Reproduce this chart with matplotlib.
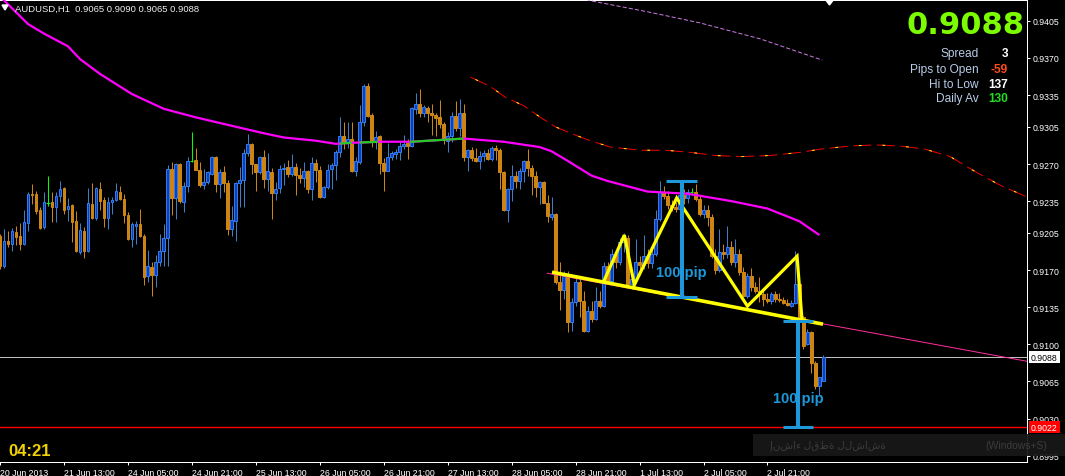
import numpy as np
import matplotlib
matplotlib.use("Agg")
import matplotlib.pyplot as plt
from matplotlib.patches import Rectangle, Polygon

plt.rcParams['font.family'] = ['Liberation Sans', 'DejaVu Sans']
plt.rcParams['lines.scale_dashes'] = False

# ---- AUDUSD H1 candles (bar index 0 = 20 Jun 2013 21:00) ----
opens = [
    .9202, .9174, .9197, .9195, .9206, .9202, .9195, .9214, .9242, .9242,
    .9227, .9211, .9233, .9234, .9229, .9240, .9247, .9228, .9231, .9216,
    .9187, .9207, .9188, .9232, .9219, .9246, .9236, .9219, .9234, .9236,
    .9244, .9237, .9222, .9199, .9212, .9213, .9202, .9164, .9173, .9165,
    .9178, .9188, .9200, .9265, .9238, .9270, .9234, .9249, .9273, .9274,
    .9264, .9250, .9253, .9261, .9277, .9251, .9262, .9252, .9209, .9216,
    .9252, .9255, .9280, .9289, .9270, .9262, .9277, .9256, .9262, .9243,
    .9247, .9265, .9267, .9261, .9267, .9260, .9257, .9263, .9246, .9271,
    .9264, .9239, .9248, .9265, .9269, .9281, .9296, .9290, .9294, .9263,
    .9272, .9310, .9344, .9316, .9291, .9296, .9271, .9263, .9277, .9279,
    .9281, .9287, .9290, .9287, .9322, .9327, .9318, .9323, .9318, .9316,
    .9314, .9308, .9292, .9296, .9315, .9304, .9318, .9277, .9283, .9276,
    .9273, .9278, .9280, .9275, .9285, .9283, .9262, .9227, .9246, .9259,
    .9254, .9263, .9273, .9266, .9259, .9248, .9253, .9233, .9220, .9223,
    .9159, .9151, .9164, .9121, .9140, .9159, .9141, .9113, .9131, .9124,
    .9141, .9136, .9174, .9160, .9185, .9178, .9196, .9200, .9157, .9162,
    .9178, .9175, .9183, .9177, .9185, .9218, .9244, .9240, .9231, .9229,
    .9228, .9241, .9238, .9244, .9244, .9237, .9223, .9227, .9220, .9183,
    .9170, .9187, .9185, .9192, .9178, .9185, .9168, .9146, .9164, .9154,
    .9150, .9147, .9143, .9141, .9147, .9143, .9142, .9139, .9136, .9139,
    .9157, .9126, .9100, .9112, .9082, .9061, .9065]
highs = [
    .9204, .9209, .9207, .9210, .9212, .9214, .9227, .9244, .9251, .9245,
    .9229, .9244, .9259, .9244, .9244, .9254, .9248, .9238, .9232, .9226,
    .9214, .9211, .9247, .9252, .9248, .9253, .9239, .9239, .9239, .9252,
    .9249, .9242, .9225, .9215, .9216, .9228, .9204, .9189, .9178, .9184,
    .9204, .9213, .9269, .9272, .9271, .9271, .9253, .9277, .9300, .9285,
    .9272, .9265, .9263, .9278, .9278, .9265, .9268, .9255, .9230, .9253,
    .9267, .9284, .9298, .9290, .9270, .9278, .9283, .9280, .9266, .9253,
    .9269, .9271, .9274, .9279, .9271, .9266, .9272, .9264, .9277, .9275,
    .9268, .9249, .9270, .9271, .9283, .9314, .9310, .9310, .9310, .9277,
    .9326, .9345, .9346, .9318, .9301, .9297, .9276, .9290, .9282, .9284,
    .9291, .9297, .9294, .9324, .9337, .9341, .9326, .9325, .9327, .9318,
    .9330, .9310, .9300, .9319, .9329, .9331, .9327, .9284, .9286, .9285,
    .9282, .9283, .9284, .9287, .9288, .9285, .9263, .9247, .9269, .9263,
    .9266, .9274, .9284, .9269, .9263, .9254, .9254, .9241, .9239, .9224,
    .9178, .9169, .9169, .9144, .9163, .9164, .9150, .9136, .9141, .9154,
    .9150, .9178, .9178, .9190, .9188, .9200, .9205, .9203, .9163, .9199,
    .9183, .9203, .9190, .9194, .9227, .9254, .9249, .9245, .9236, .9234,
    .9244, .9246, .9246, .9247, .9251, .9240, .9231, .9231, .9223, .9190,
    .9209, .9195, .9212, .9197, .9199, .9190, .9173, .9167, .9172, .9159,
    .9163, .9151, .9148, .9149, .9150, .9148, .9145, .9143, .9142, .9188,
    .9160, .9127, .9114, .9113, .9084, .9069, .9090]
lows = [
    .9171, .9172, .9192, .9188, .9194, .9189, .9194, .9207, .9232, .9223,
    .9209, .9209, .9230, .9215, .9215, .9234, .9223, .9216, .9196, .9187,
    .9185, .9181, .9187, .9218, .9217, .9227, .9211, .9209, .9223, .9235,
    .9236, .9214, .9198, .9192, .9195, .9201, .9156, .9159, .9146, .9154,
    .9174, .9174, .9174, .9222, .9218, .9233, .9225, .9244, .9272, .9264,
    .9248, .9246, .9251, .9260, .9244, .9238, .9244, .9203, .9202, .9197,
    .9229, .9229, .9278, .9261, .9245, .9261, .9247, .9245, .9218, .9236,
    .9243, .9250, .9258, .9259, .9241, .9252, .9248, .9243, .9236, .9253,
    .9238, .9238, .9246, .9246, .9255, .9277, .9284, .9285, .9262, .9259,
    .9270, .9306, .9314, .9286, .9284, .9261, .9245, .9263, .9274, .9275,
    .9274, .9284, .9275, .9286, .9317, .9314, .9314, .9310, .9297, .9296,
    .9304, .9289, .9281, .9291, .9301, .9296, .9273, .9263, .9273, .9272,
    .9265, .9273, .9274, .9273, .9274, .9246, .9226, .9215, .9235, .9247,
    .9246, .9253, .9259, .9241, .9239, .9232, .9233, .9215, .9217, .9157,
    .9132, .9143, .9112, .9113, .9136, .9126, .9112, .9112, .9121, .9123,
    .9134, .9135, .9157, .9157, .9172, .9175, .9187, .9155, .9153, .9158,
    .9170, .9171, .9172, .9172, .9183, .9216, .9237, .9228, .9226, .9225,
    .9227, .9232, .9233, .9241, .9235, .9221, .9219, .9212, .9181, .9166,
    .9168, .9180, .9181, .9175, .9173, .9165, .9145, .9144, .9150, .9148,
    .9140, .9136, .9139, .9138, .9140, .9140, .9138, .9136, .9135, .9138,
    .9124, .9096, .9099, .9073, .9058, .9052, .9065]
closes = [
    .9174, .9197, .9195, .9207, .9201, .9195, .9215, .9242, .9241, .9226,
    .9210, .9234, .9233, .9229, .9240, .9246, .9227, .9230, .9215, .9188,
    .9208, .9188, .9233, .9219, .9247, .9235, .9219, .9234, .9236, .9245,
    .9237, .9222, .9199, .9213, .9213, .9202, .9163, .9174, .9165, .9178,
    .9188, .9200, .9265, .9238, .9270, .9235, .9249, .9273, .9273, .9264,
    .9250, .9253, .9262, .9277, .9251, .9262, .9252, .9209, .9217, .9252,
    .9255, .9280, .9289, .9270, .9262, .9277, .9256, .9263, .9243, .9246,
    .9265, .9266, .9261, .9267, .9260, .9257, .9263, .9246, .9271, .9264,
    .9239, .9248, .9264, .9269, .9281, .9296, .9290, .9294, .9263, .9273,
    .9310, .9344, .9315, .9291, .9295, .9271, .9263, .9277, .9280, .9281,
    .9287, .9289, .9287, .9323, .9327, .9318, .9324, .9318, .9316, .9313,
    .9308, .9293, .9296, .9315, .9304, .9318, .9277, .9283, .9276, .9273,
    .9278, .9280, .9275, .9285, .9283, .9262, .9227, .9246, .9259, .9254,
    .9263, .9273, .9266, .9259, .9248, .9253, .9233, .9221, .9223, .9159,
    .9151, .9164, .9121, .9140, .9159, .9141, .9113, .9131, .9124, .9141,
    .9136, .9174, .9160, .9185, .9178, .9196, .9200, .9157, .9162, .9178,
    .9175, .9183, .9177, .9185, .9218, .9244, .9240, .9231, .9229, .9228,
    .9241, .9238, .9244, .9244, .9237, .9223, .9227, .9220, .9183, .9170,
    .9187, .9185, .9192, .9178, .9185, .9168, .9146, .9164, .9154, .9150,
    .9147, .9143, .9141, .9147, .9143, .9142, .9139, .9137, .9139, .9157,
    .9126, .9098, .9112, .9082, .9061, .9069, .9088]

# moving average (magenta, green where rising) read at a few bars
ma_bar = [0, 7, 11, 17, 20, 25, 33, 41, 49, 58, 66, 71, 79, 84, 88, 95, 103,
          116, 126, 135, 138, 142, 148, 152, 162, 172, 183, 192, 200, 205]
ma_val = [.9428, .9402, .9393, .9381, .9369, .9355, .9336, .9322, .9314, .9306,
          .9299, .9295, .9292, .9289, .9290, .9291, .9291, .9294, .9291, .9286,
          .9282, .9273, .9259, .9254, .9244, .9242, .9235, .9228, .9216, .9203]
ma_green = [(85, 88), (90, 94.5), (102.5, 116)]

# shifted red average (runs past the last bar)
red_bar = [117.7, 122.7, 126.4, 131, 135.2, 139, 143.4, 147.7, 152.7, 160.2, 166.4,
           172.7, 179, 185.2, 192.7, 200.2, 205.2, 212.7, 218.9, 225.2, 231.4,
           237.7, 243.9, 250.2, 256.9]
red_val = [.9352, .9343, .9333, .9325, .9314, .9305, .9298, .9292, .9286, .9283, .9283,
           .9281, .9278, .9277, .9278, .9281, .9284, .9287, .9288, .9287, .9284,
           .9277, .9263, .9250, .9239]

# violet average at the top
vio_bar = [145.0, 147.7, 162.7, 175.2, 190.2, 205.7]
vio_val = [.9428, .9424, .9413, .9403, .9388, .9368]

# drawn objects
trend_bar = [136.9, 256.9]
trend_val = [.9167, .9084]
neck_bar = [138.1, 205.9]
neck_val = [.9168, .9119]
zig_bar = [151.0, 156.2, 158.7, 169.3, 187.0, 199.4, 200.6]
zig_val = [.9159, .9203, .9156, .9238, .9136, .9183, .9125]
pip_bar = [170.5, 199.7]
pip_top = [.9254, .9122]
pip_bot = [.9145, .9022]
pip_label_val = [.9168, .9049]

bid = 0.9088
red_level = 0.9022

ytick_vals = [0.9405, 0.9370, 0.9335, 0.9305, 0.9270, 0.9235, 0.9205, 0.9170,
              0.9135, 0.9100, 0.9065, 0.9030, 0.8995]
xtick_bar = list(range(0, 193, 16))
xtick_labels = ["20 Jun 2013", "21 Jun 13:00", "24 Jun 05:00", "24 Jun 21:00",
                "25 Jun 13:00", "26 Jun 05:00", "26 Jun 21:00", "27 Jun 13:00",
                "28 Jun 05:00", "28 Jun 21:00", "1 Jul 13:00", "2 Jul 05:00",
                "2 Jul 21:00"]

W, H = 1065, 477
PX = 0.72  # one pixel in points

fig = plt.figure(figsize=(W / 100, H / 100), dpi=100, facecolor="black")
ax = fig.add_axes([0, 14 / H, 1027 / W, 462 / H])
ax.set_facecolor("black")

o = np.array(opens); h = np.array(highs); l = np.array(lows); c = np.array(closes)
x = np.arange(len(c))
up = c > o + 1e-9
dn = c < o - 1e-9
dj = ~(up | dn)

ax.vlines(x[up], l[up], h[up], color="#3F7EC6", lw=PX, zorder=2)
ax.vlines(x[dn], l[dn], h[dn], color="#CC8414", lw=PX, zorder=2)
ax.vlines(x[dj], l[dj], h[dj], color="#00FF00", lw=PX, zorder=2)
ax.bar(x[up], c[up] - o[up], bottom=o[up], width=0.7, color="#1A3CA6",
       edgecolor="#2C7BF2", linewidth=PX, zorder=2.1)
ax.bar(x[dn], o[dn] - c[dn], bottom=c[dn], width=0.7, color="#CC8414",
       edgecolor="#CC8414", linewidth=PX, zorder=2.1)
ax.hlines(c[dj], x[dj] - 0.4, x[dj] + 0.4, color="#00FF00", lw=PX, zorder=2.1)

# levels
ax.axhline(bid, color="#C0C0C0", lw=PX, zorder=1.5)
ax.axhline(red_level, color="#FF0000", lw=1.0, zorder=1.5)

# moving averages
ax.plot(ma_bar, ma_val, color="#FF00FF", lw=1.6, zorder=3, solid_capstyle="butt")
for a, b in ma_green:
    xs = np.linspace(a, b, 20)
    ax.plot(xs, np.interp(xs, ma_bar, ma_val), color="#22CC22", lw=1.6, zorder=3.1,
            solid_capstyle="butt")
ax.plot(red_bar, red_val, color="#F00000", lw=PX, ls=(0, (13, 4)), zorder=3)
ax.plot(red_bar, red_val, color="#FFFF00", lw=PX, ls=(13, (2, 15)), zorder=3)
ax.plot(vio_bar, vio_val, color="#C77BE0", lw=PX, ls=(0, (3, 1.5)), zorder=3)

# drawn objects
ax.plot(trend_bar, trend_val, color="#FF2E9A", lw=PX, zorder=3.5)
ax.plot(neck_bar, neck_val, color="#FFFF00", lw=2.6, zorder=4, solid_capstyle="butt")
ax.plot(zig_bar, zig_val, color="#FFFF00", lw=2.3, zorder=4, solid_joinstyle="miter")

blue = "#1E98DA"
for xb, yt, yb, yl in zip(pip_bar, pip_top, pip_bot, pip_label_val):
    ax.vlines(xb, yb, yt, color=blue, lw=2.9, zorder=5)
    ax.hlines([yt, yb], xb - 3.8, xb + 3.8, color=blue, lw=2.2, zorder=5)
    ax.text(xb, yl, "100 pip", color=blue, fontsize=10.5, fontweight="bold",
            ha="center", va="center", zorder=6)

ax.set_xlim(0.175, 256.93)
ax.set_ylim(0.89890, 0.942466)

ax.spines["left"].set_visible(False)
for side in ["top", "right", "bottom"]:
    ax.spines[side].set_color("white")
    ax.spines[side].set_linewidth(PX)

ax.yaxis.tick_right()
ax.set_yticks(ytick_vals)
ax.set_yticklabels([f"{v:.4f}" for v in ytick_vals])
ax.set_xticks(xtick_bar)
ax.set_xticklabels(xtick_labels, ha="left")
ax.tick_params(axis="both", colors="white", labelcolor="white", length=2.5,
               width=PX, labelsize=6.3, pad=1.5)

# price labels on the scale
ax.text(1.004, bid, "0.9088", transform=ax.get_yaxis_transform(), clip_on=False,
        color="black", fontsize=6.3, ha="left", va="center", zorder=7,
        bbox=dict(facecolor="white", edgecolor="none", pad=1.2))
ax.text(1.004, red_level, "0.9022", transform=ax.get_yaxis_transform(), clip_on=False,
        color="white", fontsize=6.3, ha="left", va="center", zorder=7,
        bbox=dict(facecolor="#FF0000", edgecolor="none", pad=1.2))


def fx(px):
    return px / W


def fy(py):
    return 1 - py / H


# header
fig.text(fx(15), fy(9), "AUDUSD,H1  0.9065 0.9090 0.9065 0.9088", color="#EEEEEE",
         fontsize=6.8, va="center", ha="left")
fig.add_artist(Polygon([[fx(2), fy(6)], [fx(8), fy(6)], [fx(5), fy(11)]],
                       closed=True, transform=fig.transFigure, color="white"))
fig.add_artist(Polygon([[fx(825), fy(0)], [fx(834), fy(0)], [fx(829.5), fy(6)]],
                       closed=True, transform=fig.transFigure, color="white"))

# info panel
fig.text(fx(1025), fy(26), "0.9088", color="#7CFC00", fontsize=22, fontweight="bold",
         family="DejaVu Sans", ha="right", va="center")
panel_labels = ["Spread", "Pips to Open", "Hi to Low", "Daily Av"]
panel_values = ["3", "-59", "137", "130"]
panel_colors = ["white", "#FF4A1A", "white", "#22DD22"]
for k, (lab, val, col) in enumerate(zip(panel_labels, panel_values, panel_colors)):
    yy = [54, 70, 85, 99][k]
    fig.text(fx(979), fy(yy), lab, color="#B8CCE8", fontsize=8.6, ha="right", va="center")
    fig.text(fx(1008), fy(yy), val, color=col, fontsize=8.6, fontweight="bold",
             ha="right", va="center")

# timer
fig.text(fx(8), fy(452), "04:21", color="#F2D200", fontsize=12, fontweight="bold",
         ha="left", va="center")

# screen-snip hint box
fig.add_artist(Rectangle((fx(753), fy(457)), fx(1065 - 753), 22 / H,
                         transform=fig.transFigure, facecolor="#181818",
                         edgecolor="none", alpha=0.92, zorder=10))
fig.text(fx(828), fy(446), "إنشاء لقطة للشاشة", color="#3C3C3C", fontsize=7.5,
         ha="center", va="center", zorder=11)
fig.text(fx(1016), fy(446), "(Windows+S)", color="#3C3C3C", fontsize=7.5,
         ha="center", va="center", zorder=11)

fig.savefig("out.png", dpi=100, facecolor="black")
